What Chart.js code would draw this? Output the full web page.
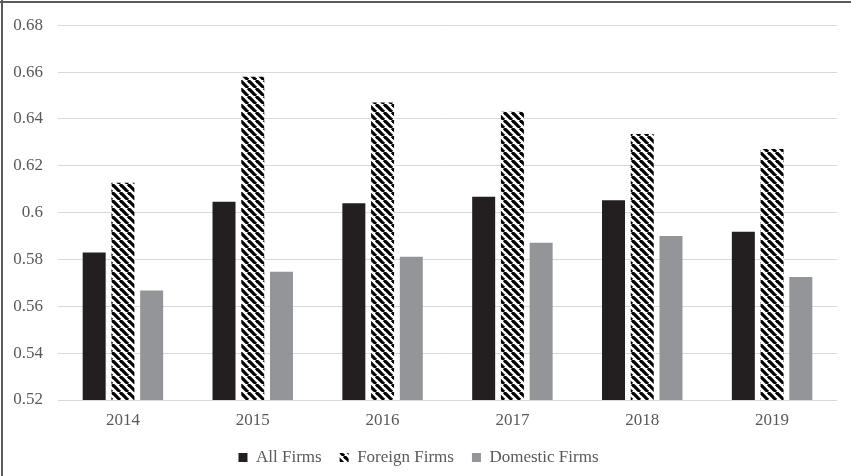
<!DOCTYPE html>
<html>
<head>
<meta charset="utf-8">
<script src="https://cdn.jsdelivr.net/npm/chart.js@4"></script>
<style>
  body { margin: 0; background: #fff; }
  #wrap { width: 851px; height: 476px; }
</style>
</head>
<body>
<div id="wrap"><canvas id="myChart" width="851" height="476"></canvas></div>
<script>
const years = ["2014", "2015", "2016", "2017", "2018", "2019"];
const allFirms = [0.583, 0.6046, 0.604, 0.6068, 0.6053, 0.5918];
const foreignFirms = [0.6127, 0.658, 0.647, 0.6431, 0.6336, 0.6272];
const domesticFirms = [0.5667, 0.5748, 0.5811, 0.5871, 0.590, 0.5725];
const yTicks = [0.52, 0.54, 0.56, 0.58, 0.6, 0.62, 0.64, 0.66, 0.68];

const textColor = "#595959";
const fontFamily = "'Liberation Serif', 'Times New Roman', serif";

// hatch pattern for foreign firms
const makeHatch = () => {
    const s = 8;
    const c = document.createElement("canvas");
    c.width = s;
    c.height = s;
    const g = c.getContext("2d");
    g.fillStyle = "#fff";
    g.fillRect(0, 0, s, s);
    g.strokeStyle = "#000";
    g.lineWidth = 3.2;
    for (const k of [-s, 0, s]) {
        g.beginPath();
        g.moveTo(k, 0);
        g.lineTo(k + s, s);
        g.stroke();
    }
    return g.createPattern(c, "repeat");
};

const frame = {
    id: "frame",
    beforeDraw(chart) {
        const ctx = chart.ctx;
        ctx.save();
        ctx.fillStyle = "#fff";
        ctx.fillRect(0, 0, chart.width, chart.height);
        ctx.fillStyle = "#5a5a5a";
        ctx.fillRect(0, 1, chart.width, 2);
        ctx.fillRect(1, 0, 2, chart.height);
        ctx.restore();
    },
};

const ctx = document.getElementById("myChart").getContext("2d");
const myChart = new Chart(ctx, {
    type: "bar",
    data: {
        labels: years,
        datasets: [{
            label: "All Firms",
            data: allFirms,
            backgroundColor: "#231f20",
        }, {
            label: "Foreign Firms",
            data: foreignFirms,
            backgroundColor: makeHatch(),
        }, {
            label: "Domestic Firms",
            data: domesticFirms,
            backgroundColor: "#939598",
        }],
    },
    plugins: [frame],
    options: {
        responsive: false,
        animation: false,
        devicePixelRatio: 1,
        barPercentage: 0.8,
        categoryPercentage: 0.664,
        layout: {
            padding: { top: 20, right: 14, left: 0, bottom: 0 },
        },
        plugins: {
            tooltip: { enabled: false },
            legend: {
                position: "bottom",
                labels: {
                    color: textColor,
                    font: { family: fontFamily, size: 17 },
                    boxWidth: 9,
                    boxHeight: 9,
                    padding: 18,
                },
            },
        },
        scales: {
            x: {
                grid: { display: false },
                border: { display: false },
                ticks: {
                    color: textColor,
                    font: { family: fontFamily, size: 17 },
                    padding: 2,
                },
                afterFit: (s) => { s.height = 31; },
            },
            y: {
                min: 0.52,
                max: 0.68,
                border: { display: false },
                grid: { color: "#d9d9d9", lineWidth: 1, drawTicks: false },
                afterBuildTicks: (s) => { s.ticks = yTicks.map((v) => ({ value: v })); },
                ticks: {
                    color: textColor,
                    font: { family: fontFamily, size: 17 },
                    padding: 15,
                    callback: (v) => String(+v.toFixed(2)),
                },
                afterFit: (s) => { s.width = 58; },
            },
        },
    },
});
</script>
</body>
</html>
